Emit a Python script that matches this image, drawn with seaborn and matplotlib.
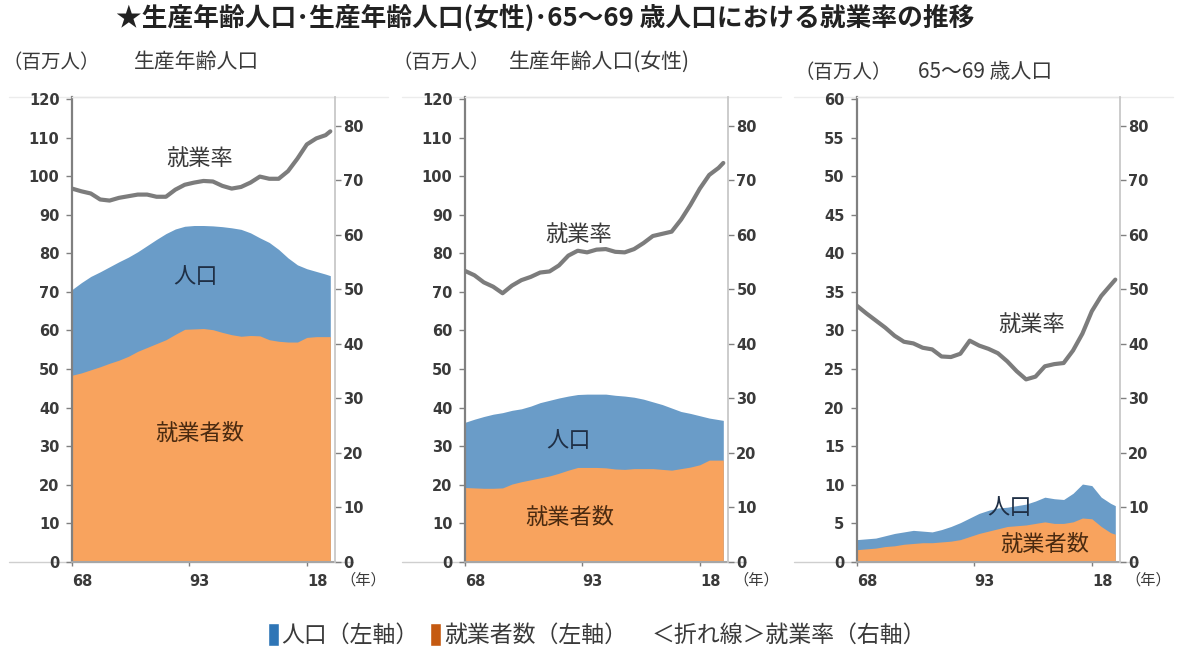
import numpy as np
import pandas as pd
import matplotlib
matplotlib.use('Agg')
import matplotlib.pyplot as plt
import seaborn as sns
from matplotlib.patches import Patch
from matplotlib.lines import Line2D

# years on the x axis (2-year steps plus the last year)
years = list(range(1968, 2023, 2)) + [2023]

# panel 1: working-age population (millions / %)
pop_all = [70.6, 72.4, 74.0, 75.2, 76.5, 77.8, 79.0, 80.4, 82.0, 83.6, 85.1, 86.3, 87.0, 87.2, 87.2,
           87.1, 86.9, 86.6, 86.2, 85.3, 84.0, 82.8, 81.0, 78.8, 77.0, 76.0, 75.3, 74.6, 74.2]
emp_all = [48.4, 49.0, 49.8, 50.6, 51.5, 52.3, 53.3, 54.6, 55.6, 56.6, 57.6, 59.0, 60.3, 60.4, 60.5,
           60.2, 59.5, 58.9, 58.5, 58.7, 58.6, 57.6, 57.2, 57.0, 57.0, 58.2, 58.4, 58.4, 58.4]
rate_all = [68.5, 68.0, 67.6, 66.5, 66.3, 66.8, 67.1, 67.4, 67.4, 67.0, 67.0, 68.3, 69.2, 69.6, 69.9,
            69.8, 69.0, 68.5, 68.8, 69.6, 70.7, 70.3, 70.3, 71.7, 74.0, 76.6, 77.7, 78.3, 79.0]

# panel 2: working-age population (female)
pop_f = [36.2, 37.0, 37.7, 38.3, 38.7, 39.3, 39.7, 40.4, 41.3, 41.9, 42.5, 43.0, 43.4, 43.5, 43.5,
         43.5, 43.2, 43.0, 42.7, 42.2, 41.5, 40.8, 39.9, 39.0, 38.5, 37.9, 37.3, 36.9, 36.7]
emp_f = [19.3, 19.2, 19.1, 19.1, 19.2, 20.2, 20.8, 21.3, 21.8, 22.3, 23.0, 23.8, 24.5, 24.5, 24.5,
         24.4, 24.1, 24.0, 24.2, 24.2, 24.2, 24.0, 23.8, 24.2, 24.6, 25.2, 26.4, 26.4, 26.4]
rate_f = [53.4, 52.6, 51.3, 50.5, 49.3, 50.7, 51.7, 52.3, 53.1, 53.3, 54.4, 56.2, 57.1, 56.8, 57.3,
          57.4, 56.9, 56.8, 57.4, 58.5, 59.8, 60.2, 60.6, 62.8, 65.5, 68.5, 71.0, 72.3, 73.2]

# panel 3: age 65-69
pop_65 = [2.9, 3.0, 3.1, 3.4, 3.7, 3.9, 4.1, 4.0, 3.9, 4.2, 4.6, 5.1, 5.7, 6.3, 6.7,
          7.0, 7.1, 7.3, 7.5, 7.9, 8.4, 8.2, 8.1, 8.9, 10.1, 9.9, 8.4, 7.6, 7.3]
emp_65 = [1.6, 1.7, 1.8, 2.0, 2.1, 2.3, 2.4, 2.5, 2.5, 2.6, 2.7, 2.9, 3.3, 3.7, 4.0,
          4.3, 4.6, 4.7, 4.8, 5.0, 5.2, 5.0, 5.0, 5.2, 5.7, 5.6, 4.6, 3.8, 3.6]
rate_65 = [47.0, 45.6, 44.3, 43.0, 41.5, 40.4, 40.1, 39.3, 39.0, 37.7, 37.6, 38.2, 40.6, 39.7, 39.1,
           38.3, 36.8, 35.0, 33.5, 34.0, 35.9, 36.3, 36.5, 38.8, 41.9, 46.0, 48.8, 50.8, 51.8]

subtitles = ['生産年齢人口', '生産年齢人口(女性)', '65～69 歳人口']
xtick_years = [1968, 1993, 2018]
xtick_labels = ['68', '93', '18']

sns.set_theme(style='white')
plt.rcParams['font.family'] = ['Noto Sans CJK JP', 'DejaVu Sans']

BLUE = '#6a9cc8'
ORANGE = '#f8a35e'
LINE = '#7c7c7c'
TXT = '#3a3a3a'

fig = plt.figure(figsize=(11.82, 6.5), dpi=100)

# panel geometry in pixels: left spine, subtitle x positions, label spots (axes fraction)
panels = [
    dict(pop=pop_all, emp=emp_all, rate=rate_all, left=72, ymax=120.5, ystep=10,
         unit_x=3, sub_x=134, sub_y=62,
         lab_rate=(0.487, 0.865), lab_pop=(0.468, 0.613), lab_emp=(0.487, 0.277)),
    dict(pop=pop_f, emp=emp_f, rate=rate_f, left=465, ymax=120.5, ystep=10,
         unit_x=392, sub_x=509, sub_y=62,
         lab_rate=(0.431, 0.703), lab_pop=(0.393, 0.262), lab_emp=(0.40, 0.097)),
    dict(pop=pop_65, emp=emp_65, rate=rate_65, left=857, ymax=60.25, ystep=5,
         unit_x=794, sub_x=918, sub_y=72,
         lab_rate=(0.665, 0.51), lab_pop=(0.58, 0.118), lab_emp=(0.715, 0.037)),
]

W, H = 1182, 650
for i, p in enumerate(panels):
    ax = fig.add_axes([p['left'] / W, (H - 562) / H, 263 / W, 465 / H])
    df = pd.DataFrame({'year': years, 'pop': p['pop'], 'emp': p['emp'], 'rate': p['rate']})

    # population behind, employed in front
    ax.fill_between(df['year'], 0, df['pop'], color=BLUE, lw=0, zorder=1)
    ax.fill_between(df['year'], 0, df['emp'], color=ORANGE, lw=0, zorder=2)
    ax.set_xlim(1968, 2024)
    ax.set_ylim(0, p['ymax'])
    ax.set_yticks(np.arange(0, p['ymax'], p['ystep']))
    ax.set_xticks(xtick_years)
    ax.set_xticklabels(xtick_labels)
    ax.set_xlabel('')
    ax.set_ylabel('')

    # employment rate on the right axis
    ax2 = ax.twinx()
    sns.lineplot(data=df, x='year', y='rate', ax=ax2, color=LINE, linewidth=3, zorder=3)
    ax2.set_ylim(0, 85.3)
    ax2.set_yticks(np.arange(0, 81, 10))
    ax2.set_xlim(1968, 2024)
    ax2.set_xlabel('')
    ax2.set_ylabel('')

    for a in (ax, ax2):
        for s in a.spines.values():
            s.set_visible(False)
    ax.spines['left'].set_visible(True)
    ax.spines['left'].set_color('#808080')
    ax.spines['left'].set_linewidth(1.6)
    ax.spines['bottom'].set_visible(True)
    ax.spines['bottom'].set_color('#a6a6a6')
    ax.spines['bottom'].set_linewidth(1.5)
    ax2.spines['right'].set_visible(True)
    ax2.spines['right'].set_color('#c8c8c8')
    ax2.spines['right'].set_linewidth(1.3)
    ax.spines['top'].set_visible(True)
    ax.spines['top'].set_color('#e6e6e6')
    ax.spines['top'].set_linewidth(1.0)

    # faint guide lines running past the panel (as in the source image)
    ax.plot([-0.24, 1.07], [0, 0], transform=ax.transAxes, color='#cfcfcf', lw=1, clip_on=False, zorder=0)
    ax.plot([-0.24, 1.2], [1, 1], transform=ax.transAxes, color='#ececec', lw=1, clip_on=False, zorder=0)

    ax.tick_params(axis='y', left=True, length=4, width=1, color='#808080', pad=5,
                   labelsize=10.5, labelcolor=TXT)
    ax.tick_params(axis='x', bottom=True, length=3, width=1, color='#808080', pad=6,
                   labelsize=10.5, labelcolor=TXT)
    ax2.tick_params(axis='y', right=True, length=4, width=1, color='#808080', pad=2,
                    labelsize=10.5, labelcolor=TXT)
    for lab in ax.get_yticklabels() + ax.get_xticklabels() + ax2.get_yticklabels():
        lab.set_fontfamily('DejaVu Sans')
        lab.set_fontweight('bold')
    for lab in ax.get_xticklabels():
        lab.set_horizontalalignment('left')
    ax.text(1.02, -0.038, '（年）', transform=ax.transAxes, ha='left', va='center',
            fontsize=11, color=TXT)

    ax2.text(*p['lab_rate'], '就業率', transform=ax.transAxes, ha='center', va='center',
             fontsize=16, color=TXT, zorder=5)
    ax2.text(*p['lab_pop'], '人口', transform=ax.transAxes, ha='center', va='center',
             fontsize=16, color='#1f2f45', zorder=5)
    ax2.text(*p['lab_emp'], '就業者数', transform=ax.transAxes, ha='center', va='center',
             fontsize=16, color='#4a2a10', zorder=5)

    fig.text(p['unit_x'] / W, 1 - p['sub_y'] / H, '（百万人）', ha='left', va='center',
             fontsize=14, color=TXT)
    fig.text(p['sub_x'] / W, 1 - p['sub_y'] / H, subtitles[i], ha='left', va='center',
             fontsize=15, color=TXT)

fig.text(545 / W, 1 - 18 / H, '★生産年齢人口･生産年齢人口(女性)･65～69 歳人口における就業率の推移',
         ha='center', va='center', fontsize=18.5, fontweight='bold', color='#222222')

handles = [Patch(facecolor='#2e75b6', label='人口（左軸）'),
           Patch(facecolor='#c55a11', label='就業者数（左軸）'),
           Line2D([], [], lw=0, label='＜折れ線＞就業率（右軸）')]
fig.legend(handles=handles, loc='center', bbox_to_anchor=(597 / W, 1 - 635 / H), ncol=3,
           frameon=False, fontsize=16.5, handlelength=0.5, handleheight=1.2,
           handletextpad=0.1, columnspacing=0.5, labelcolor=TXT)

fig.savefig('out.png', dpi=100)
